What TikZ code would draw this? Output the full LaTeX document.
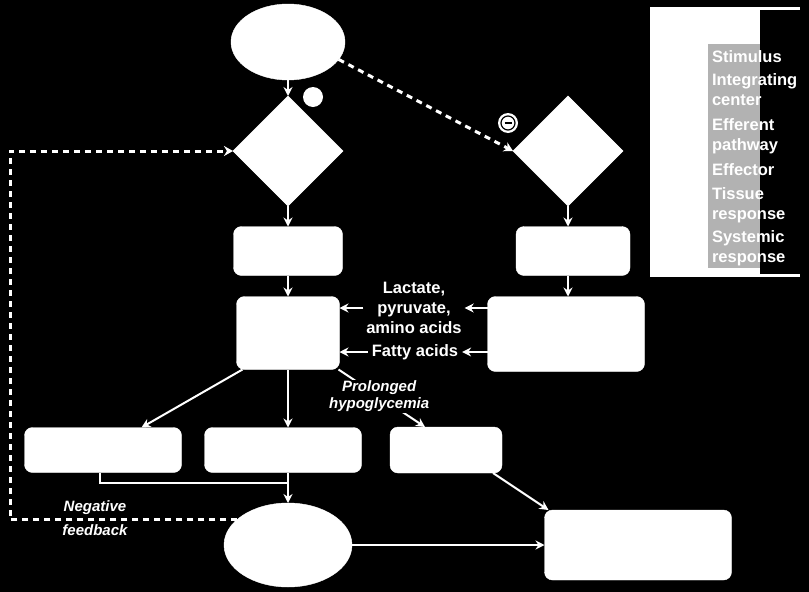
\documentclass[tikz,border=0pt]{standalone}
\usepackage{fontspec}
\setmainfont{Liberation Sans}
\usetikzlibrary{shapes.geometric,arrows.meta}
\begin{document}
\begin{tikzpicture}[x=1pt,y=-1pt,
  every node/.style={inner sep=0pt, outer sep=0pt},
  wbox/.style={draw=white, fill=white, rounded corners=8pt},
  wdia/.style={diamond, draw=white, fill=white, aspect=1, minimum width=110pt, minimum height=110pt},
  well/.style={ellipse, draw=white, fill=white},
  arr/.style={draw=white, line width=2pt, -{Stealth[length=9pt,width=9pt]}},
  plain/.style={draw=white, line width=2pt},
  fb/.style={draw=white, line width=3pt, dash pattern=on 6pt off 5pt, -{Stealth[length=9pt,width=10pt]}},
  lbl/.style={text=white, font=\fontsize{16.5}{20}\selectfont\bfseries, align=center},
  ilbl/.style={text=white, font=\fontsize{15}{17}\selectfont\bfseries\itshape, align=center},
  leg/.style={text=white, font=\fontsize{16.5}{20}\selectfont\bfseries, align=left, anchor=west}
]
\fill[black] (0,0) rectangle (809,592);
\useasboundingbox (0,0) rectangle (809,592);

% legend
\fill[white] (650,8) rectangle (760,275);
\fill[white!70!black] (708,44) rectangle (760,268);
\draw[white, line width=3pt] (650,8) -- (800,8);
\draw[white, line width=3pt] (650,275) -- (800,275);
\node[leg] (leg1) at (712,57) {Stimulus};
\node[leg] (leg2) at (712,90) {Integrating\\center};
\node[leg] (leg3) at (712,136) {Efferent\\pathway};
\node[leg] (leg4) at (712,170) {Effector};
\node[leg] (leg5) at (712,205) {Tissue\\response};
\node[leg] (leg6) at (712,248) {Systemic\\response};

% shapes
\node[well, minimum width=114pt, minimum height=76pt] (stim) at (288,42) {};
\node[wdia] (ld) at (288,151) {};
\node[wdia] (rd) at (568,151) {};
\node[wbox, minimum width=109pt, minimum height=49pt] (lb1) at (288,251) {};
\node[wbox, minimum width=114pt, minimum height=49pt] (rb1) at (573,251) {};
\node[wbox, minimum width=103pt, minimum height=73pt] (lb2) at (288,333) {};
\node[wbox, minimum width=157pt, minimum height=75pt] (rb2) at (566,334) {};
\node[wbox, minimum width=157pt, minimum height=45pt] (ba) at (103,450) {};
\node[wbox, minimum width=157pt, minimum height=45pt] (bb) at (283,450) {};
\node[wbox, minimum width=112pt, minimum height=46pt] (bc) at (446,450) {};
\node[well, minimum width=128pt, minimum height=84pt] (be) at (288,545) {};
\node[wbox, minimum width=187pt, minimum height=70pt] (bg) at (638,545) {};

% sign circles
\node[circle, fill=white, minimum size=20pt] (c1) at (313,97) {};
\node[circle, fill=white, minimum size=20pt] (c2) at (508,123) {};
\draw[black, line width=1.2pt] (c2) circle (7pt);
\draw[black, line width=1.6pt] ([xshift=-3.5pt]c2.center) -- ([xshift=3.5pt]c2.center);

% labels between boxes
\node[lbl] (lac) at (414,308) {Lactate,\\pyruvate,\\amino acids};
\node[lbl] (fat) at (415,352) {Fatty acids};
\node[ilbl] (neg1) at (95,508) {Negative};
\node[ilbl] (neg2) at (95,530) {feedback};
\coordinate (fbx) at (10,0);
\coordinate (jn) at (288,483);

% connectors
\draw[arr] (stim.south) -- (ld.north);
\draw[fb] (stim.-19) -- (rd.west);
\draw[arr] (ld.south) -- (lb1.north);
\draw[arr] (rd.south) -- (rd.south |- rb1.north);
\draw[arr] (lb1.south) -- (lb2.north);
\draw[arr] (rd.south |- rb1.south) -- (rd.south |- rb2.north);
\draw[arr] (rb2.west |- lac) -- ([xshift=3pt]lac.east);
\draw[arr] ([xshift=-3pt]lac.west) -- (lb2.east |- lac);
\draw[arr] (rb2.west |- fat) -- ([xshift=4pt]fat.east);
\draw[arr] ([xshift=-4pt]fat.west) -- (lb2.east |- fat);
\draw[arr] ([xshift=6pt]lb2.south west) -- ([xshift=-40pt]ba.north east);
\draw[arr] (lb2.south) -- (lb2.south |- bb.north);
\draw[arr] ([xshift=-1pt]lb2.south east) -- node[ilbl, fill=black, inner sep=1pt, pos=0.47] (pro) {Prolonged\\hypoglycemia} ([xshift=-21pt]bc.north);
\draw[plain] ([xshift=-3pt]ba.south) |- (jn);
\draw[arr] (be.north |- bb.south) -- (be.north);
\draw[arr] (be.east) -- (bg.west);
\draw[arr] ([xshift=-9pt]bc.south east) -- ([xshift=4pt]bg.north west);
\draw[fb] (be.153) -- (be.153 -| fbx) |- (ld.west);
\end{tikzpicture}
\end{document}
